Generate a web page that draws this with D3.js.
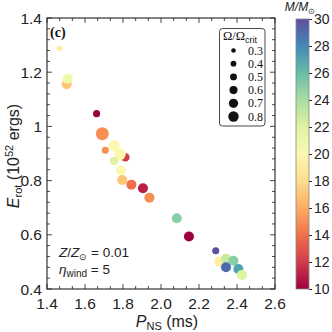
<!DOCTYPE html>
<html>
<head>
<meta charset="utf-8">
<script src="https://cdn.jsdelivr.net/npm/d3@7"></script>
<style>
body{margin:0;background:#fff;}
svg{display:block;}
.sans{font-family:"Liberation Sans",Arial,sans-serif;}
.serif{font-family:"Liberation Serif","Times New Roman",serif;}
</style>
</head>
<body>
<svg class="chart" width="332" height="332"></svg>
<script>
// values
var period = [1.465,1.504,1.509,1.661,1.691,1.707,1.753,1.812,1.784,1.753,1.788,1.796,1.844,1.905,1.939,2.083,2.147,2.288,2.307,2.342,2.381,2.342,2.407,2.426];
var erot   = [1.288,1.156,1.176,1.047,0.973,0.912,0.929,0.886,0.897,0.872,0.837,0.802,0.785,0.772,0.737,0.661,0.594,0.541,0.501,0.512,0.504,0.480,0.474,0.452];
var mass   = [19,17,21,10,15,15,20,12,20,22,20,17,14,11,15,25,10,30,19,23,25,29,27,22];
var omega  = [0.3,0.6,0.6,0.4,0.8,0.4,0.7,0.5,0.7,0.5,0.6,0.6,0.6,0.6,0.6,0.6,0.6,0.4,0.6,0.6,0.6,0.6,0.6,0.6];

var xTicks = [1.4,1.6,1.8,2.0,2.2,2.4,2.6];
var yTicks = [0.4,0.6,0.8,1.0,1.2,1.4];
var cTicks = [10,12,14,16,18,20,22,24,26,28,30];
var legendOmega = [0.3,0.4,0.5,0.6,0.7,0.8];

var pLeft=47, pRight=275, pTop=18, pBottom=289;
var svg = d3.select(".chart");

var scaleX = d3.scaleLinear().domain([1.4,2.6]).range([pLeft,pRight]);
var scaleY = d3.scaleLinear().domain([0.4,1.4]).range([pBottom,pTop]);
var scaleC = d3.scaleLinear().domain([10,30]).range([0,1]);
var scaleR = d3.scaleLinear().domain([0.3,0.8]).range([2.8,6.5]);
var scaleRLeg = d3.scaleLinear().domain([0.3,0.8]).range([2.3,5.2]);
function col(m){ return d3.interpolateSpectral(scaleC(m)); }

var fmt = function(d){ return d==1 ? "1" : d3.format(".1f")(d); };

// minor ticks
var xMinor = d3.range(0,19).map(function(i){return 1.4+i*0.2/3;});
var yMinor = d3.range(0,26).map(function(i){return 0.4+i*0.04;});

var frame = svg.append("g");
xMinor.forEach(function(v,i){
	var len = (i%3==0) ? 5 : 3;
	frame.append("line").attr("x1",scaleX(v)).attr("x2",scaleX(v)).attr("y1",pBottom).attr("y2",pBottom-len);
	frame.append("line").attr("x1",scaleX(v)).attr("x2",scaleX(v)).attr("y1",pTop).attr("y2",pTop+len);
});
yMinor.forEach(function(v,i){
	var len = (i%5==0) ? 5 : 3;
	frame.append("line").attr("y1",scaleY(v)).attr("y2",scaleY(v)).attr("x1",pLeft).attr("x2",pLeft+len);
	frame.append("line").attr("y1",scaleY(v)).attr("y2",scaleY(v)).attr("x1",pRight).attr("x2",pRight-len);
});
frame.selectAll("line").attr("stroke","#333").attr("stroke-width",0.9);
frame.append("rect").attr("x",pLeft).attr("y",pTop).attr("width",pRight-pLeft).attr("height",pBottom-pTop)
	.attr("fill","none").attr("stroke","#222").attr("stroke-width",1.1);

// tick labels
svg.selectAll(".xlab").data(xTicks).enter().append("text")
	.attr("class","sans").attr("x",function(d){return scaleX(d);}).attr("y",pBottom+20)
	.attr("text-anchor","middle").style("font-size","15.5px").attr("fill","#222")
	.text(function(d){return fmt(d);});
svg.selectAll(".ylab").data(yTicks).enter().append("text")
	.attr("class","sans").attr("x",pLeft-5).attr("y",function(d){return scaleY(d)+5.5;})
	.attr("text-anchor","end").style("font-size","15.5px").attr("fill","#222")
	.text(function(d){return fmt(d);});

// axis titles
var xt = svg.append("text").attr("class","sans").attr("x",167).attr("y",327)
	.attr("text-anchor","middle").style("font-size","16px").attr("fill","#222");
xt.append("tspan").style("font-style","italic").text("P");
xt.append("tspan").style("font-size","11px").attr("dy",3).text("NS");
xt.append("tspan").attr("dy",-3).text(" (ms)");

var yt = svg.append("text").attr("class","sans").attr("transform","translate(19,156) rotate(-90)")
	.attr("text-anchor","middle").style("font-size","16px").attr("fill","#222");
yt.append("tspan").style("font-style","italic").text("E");
yt.append("tspan").style("font-size","11px").attr("dy",2.5).text("rot");
yt.append("tspan").attr("dy",-2.5).text(" (10");
yt.append("tspan").style("font-size","11px").attr("dy",-6).text("52");
yt.append("tspan").attr("dy",6).text(" ergs)");

// points
var pts = d3.range(period.length).map(function(i){
	return {p:period[i], e:erot[i], m:mass[i], o:omega[i]};
});
svg.selectAll(".dot").data(pts).enter().append("circle")
	.attr("class","dot")
	.attr("cx",function(d){return scaleX(d.p);})
	.attr("cy",function(d){return scaleY(d.e);})
	.attr("r",function(d){return scaleR(d.o);})
	.style("fill",function(d){return col(d.m);});

// panel label
svg.append("text").attr("class","serif").attr("x",50).attr("y",37)
	.style("font-size","14px").style("font-weight","bold").attr("fill","#111").text("(c)");

// annotation
var a1 = svg.append("text").attr("class","sans").attr("x",59).attr("y",257).style("font-size","13.5px").attr("fill","#222");
a1.append("tspan").style("font-style","italic").text("Z");
a1.append("tspan").text("/");
a1.append("tspan").style("font-style","italic").text("Z");
a1.append("tspan").style("font-size","9px").attr("dy",3).text("\u2299");
a1.append("tspan").attr("dy",-3).text(" = 0.01");
var a2 = svg.append("text").attr("class","sans").attr("x",59).attr("y",274).style("font-size","13.5px").attr("fill","#222");
a2.append("tspan").style("font-style","italic").text("\u03b7");
a2.append("tspan").style("font-size","10px").attr("dy",3).text("wind");
a2.append("tspan").attr("dy",-3).text(" = 5");

// size legend
var lg = svg.append("g");
lg.append("rect").attr("x",219.5).attr("y",28.5).attr("width",45.5).attr("height",97.5).attr("rx",3)
	.attr("fill","#fff").attr("stroke","#333").attr("stroke-width",0.9);
var lt = lg.append("text").attr("x",223).attr("y",40).attr("class","serif").style("font-size","12.5px").attr("fill","#111");
lt.append("tspan").text("\u03a9/\u03a9");
lt.append("tspan").attr("class","sans").style("font-size","9px").attr("dy",2.5).text("crit");
legendOmega.forEach(function(o,i){
	var yy = 50.5+i*13.2;
	lg.append("circle").attr("cx",233.5).attr("cy",yy).attr("r",scaleRLeg(o)).style("fill","#111");
	lg.append("text").attr("class","serif").attr("x",248).attr("y",yy+4).style("font-size","12px").attr("fill","#111").text(o.toFixed(1));
});

// colorbar
var cx0=296, cw=13;
var scaleCB = d3.scaleLinear().domain([10,30]).range([pBottom,pTop+1]);
var defs = svg.append("defs");
var grad = defs.append("linearGradient").attr("id","cgrad").attr("x1",0).attr("x2",0).attr("y1",1).attr("y2",0);
d3.range(0,11).forEach(function(i){
	grad.append("stop").attr("offset",i/10).attr("stop-color",d3.interpolateSpectral(i/10));
});
svg.append("rect").attr("x",cx0).attr("y",scaleCB(30)).attr("width",cw).attr("height",scaleCB(10)-scaleCB(30))
	.style("fill","url(#cgrad)").attr("stroke","#888").attr("stroke-width",0.8);
var cAxis = d3.axisRight(scaleCB).tickValues(cTicks).tickSize(3).tickFormat(d3.format("d"));
var cg = svg.append("g").attr("transform","translate("+(cx0+cw)+",0)").call(cAxis);
cg.select(".domain").remove();
cg.selectAll("line").attr("stroke","#333");
cg.selectAll("text").attr("class","sans").style("font-size","14px").attr("fill","#222").attr("x",5);

var ct = svg.append("text").attr("class","sans").attr("x",300).attr("y",11).attr("text-anchor","middle")
	.style("font-size","12px").style("font-style","italic").attr("fill","#222");
ct.append("tspan").text("M/M");
ct.append("tspan").style("font-style","normal").style("font-size","8px").attr("dy",3).text("\u2299");
</script>
</body>
</html>
